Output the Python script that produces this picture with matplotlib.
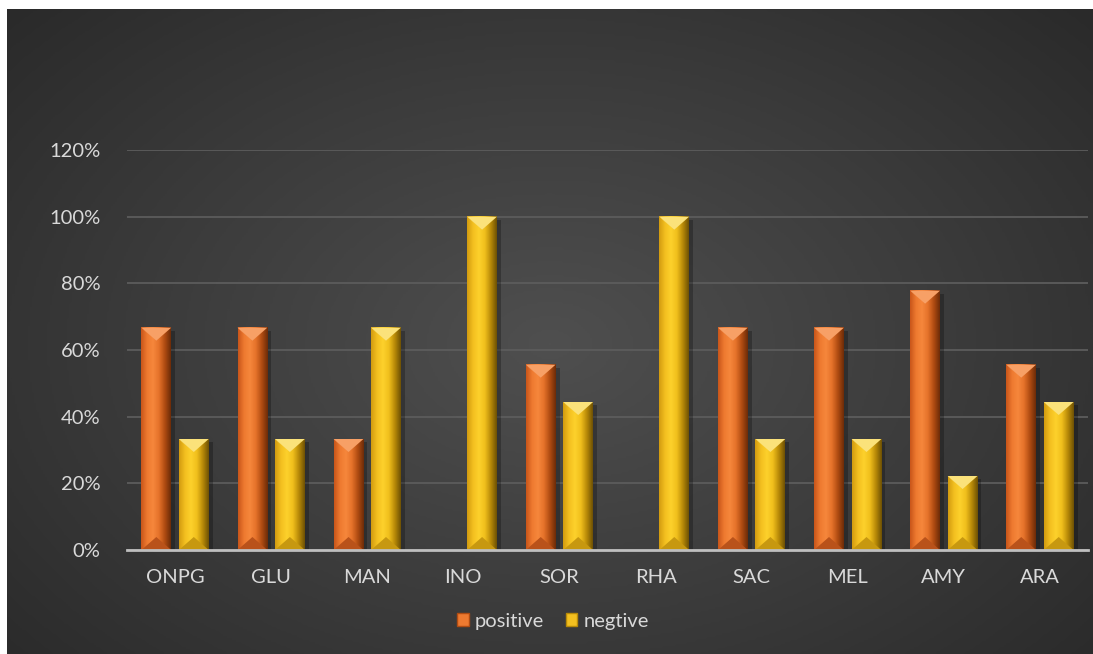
import numpy as np
import matplotlib
matplotlib.use("Agg")
import matplotlib.pyplot as plt
from matplotlib.colors import LinearSegmentedColormap
from matplotlib.patches import Polygon, Rectangle
from matplotlib.ticker import PercentFormatter

plt.rcParams['font.family'] = ['Lato', 'DejaVu Sans']

tests = ['ONPG', 'GLU', 'MAN', 'INO', 'SOR', 'RHA', 'SAC', 'MEL', 'AMY', 'ARA']
positive = [66.7, 66.7, 33.3, 0.0, 55.6, 0.0, 66.7, 66.7, 77.8, 55.6]
negtive = [33.3, 33.3, 66.7, 100.0, 44.4, 100.0, 33.3, 33.3, 22.2, 44.4]

# face gradient (left -> right), top bevel colour, bottom bevel colour
styles = {
    'positive': (['#c9561a', '#ee7a30', '#f6873c', '#e5722a', '#b04c12', '#6e2c08'],
                 '#f7a066', '#b9521a'),
    'negtive': (['#d39c10', '#f3c020', '#fdd12c', '#f0bf1c', '#b88a08', '#6f5204'],
                '#fbe27a', '#c79810'),
}

W, H = 1093, 654
fig = plt.figure(figsize=(W / 100, H / 100), dpi=100)
fig.patch.set_facecolor('white')

# dark radial background panel
bg = fig.add_axes([7 / W, 0, 1 - 7 / W, 1 - 9 / H], zorder=-10)
yy, xx = np.mgrid[0:1:300j, 0:1:500j]
r = np.sqrt(((xx - 0.5) / 0.75) ** 2 + ((yy - 0.52) / 0.85) ** 2)
bgcmap = LinearSegmentedColormap.from_list('bg', ['#4f4f4f', '#3b3b3b', '#262626'])
bg.imshow(np.clip(r, 0, 1), cmap=bgcmap, vmin=0, vmax=1, aspect='auto',
          extent=(0, 1, 0, 1), interpolation='bilinear')
bg.set_axis_off()

ax = fig.add_axes([127 / W, 104 / H, 961 / W, 400 / H])
ax.set_facecolor('none')
x = np.arange(len(tests))
width = 0.31
off = 0.195

ymax = 120
ax.set_xlim(-0.5, len(tests) - 0.5)
ax.set_ylim(0, ymax)
px_y = ymax / 400.0  # data units per pixel (vertical)
px_x = 1.0 / 96.1


def fancy_bars(xpos, vals, key, label):
    cols, top_c, bot_c = styles[key]
    bars = ax.bar(xpos, vals, width, color=cols[2], label=label, zorder=3)
    cmap = LinearSegmentedColormap.from_list(key, cols)
    grad = np.linspace(0, 1, 64)[None, :]
    for b in bars:
        x0, w, h = b.get_x(), b.get_width(), b.get_height()
        if h <= 0:
            b.set_visible(False)
            continue
        x1 = x0 + w
        # soft shadow to the right
        ax.add_patch(Rectangle((x1, 0), 4 * px_x, h - 3 * px_y, color='black',
                               alpha=0.25, lw=0, zorder=2))
        ax.imshow(grad, cmap=cmap, aspect='auto', extent=(x0, x1, 0, h),
                  interpolation='bilinear', zorder=3.5)
        d = min(13 * px_y, h / 2)
        xc = (x0 + x1) / 2
        ax.add_patch(Polygon([(x0, h), (x1, h), (xc, h - d)], closed=True,
                             color=top_c, lw=0, zorder=4))
        ax.add_patch(Polygon([(x0, h), (x0 + 3 * px_x, h - 3 * px_y), (xc, h - d)],
                             closed=True, color=top_c, lw=0, alpha=0.6, zorder=4))
        ax.add_patch(Polygon([(x0, 0), (x1, 0), (xc, d)], closed=True,
                             color=bot_c, lw=0, zorder=4))
    return bars


b1 = fancy_bars(x - off, positive, 'positive', 'positive')
b2 = fancy_bars(x + off, negtive, 'negtive', 'negtive')
ax.set_xlim(-0.5, len(tests) - 0.5)
ax.set_ylim(0, ymax)

ax.set_yticks(np.arange(0, ymax + 1, 20))
ax.yaxis.set_major_formatter(PercentFormatter(decimals=0))
ax.set_xticks(x)
ax.set_xticklabels(tests)
ax.tick_params(axis='both', length=0, labelsize=14.5, colors='#d9d9d9')
ax.tick_params(axis='y', pad=19)
ax.tick_params(axis='x', pad=14)
ax.grid(axis='y', color='#5c5c5c', lw=1.3, zorder=0)
for s in ['top', 'right', 'left']:
    ax.spines[s].set_visible(False)
ax.spines['bottom'].set_color('#bfbfbf')
ax.spines['bottom'].set_linewidth(2)
ax.spines['bottom'].set_zorder(5)

leg = fig.legend(handles=[b1, b2], labels=['positive', 'negtive'], loc='center',
                 bbox_to_anchor=(553 / W, 1 - 621 / H), ncol=2, frameon=False,
                 fontsize=14.5, labelcolor='#d9d9d9', handlelength=0.55,
                 handleheight=0.6, handletextpad=0.3, columnspacing=1.1)
for hnd, key in zip(leg.legend_handles, ['positive', 'negtive']):
    hnd.set_facecolor(styles[key][0][1])
    hnd.set_edgecolor(styles[key][0][4])

fig.savefig('out.png', dpi=100, facecolor=fig.get_facecolor())
